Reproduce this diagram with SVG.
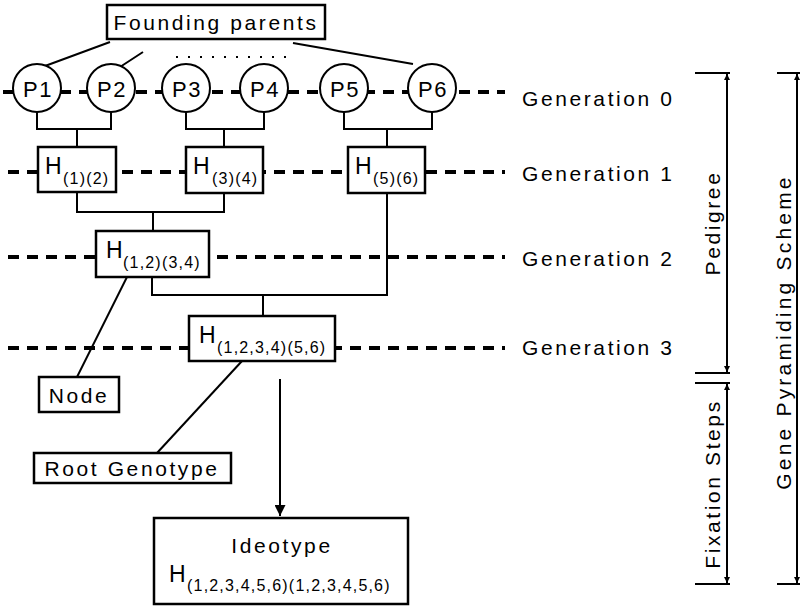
<svg xmlns="http://www.w3.org/2000/svg" width="800" height="607" viewBox="0 0 800 607">
<style>
text{font-family:"Liberation Sans",Arial,sans-serif;fill:#000}
.lbl{font-size:21px;letter-spacing:2.6px}
.p{font-size:22px;letter-spacing:1.5px;text-anchor:middle}
.h{font-size:23px}
.s{font-size:16px;letter-spacing:1.2px}
.box{fill:#fff;stroke:#000;stroke-width:2.5}
.circ{fill:#fff;stroke:#000;stroke-width:2}
.ln{fill:none;stroke:#000;stroke-width:2}
.dash{fill:none;stroke:#000;stroke-width:4;stroke-dasharray:11 8}
.br{fill:none;stroke:#000;stroke-width:2}
</style>
<defs>
<marker id="ah" viewBox="0 0 10 10" refX="10" refY="5" markerWidth="6" markerHeight="9" markerUnits="userSpaceOnUse" orient="auto-start-reverse"><path d="M0,0 L10,5 L0,10 z" fill="#000"/></marker>
<marker id="big" viewBox="0 0 10 10" refX="10" refY="5" markerWidth="14" markerHeight="11" markerUnits="userSpaceOnUse" orient="auto"><path d="M0,0 L10,5 L0,10 z" fill="#000"/></marker>
</defs>
<g id="generation-lines">
<path class="dash" d="M3,92 H505"/>
<path class="dash" d="M8,172 H505"/>
<path class="dash" d="M8,257 H505"/>
<path class="dash" d="M8,348 H505"/>
<text class="lbl" x="522" y="106">Generation 0</text>
<text class="lbl" x="522" y="181">Generation 1</text>
<text class="lbl" x="522" y="266">Generation 2</text>
<text class="lbl" x="522" y="355">Generation 3</text>
</g>
<g id="connectors">
<path class="ln" d="M110,42 L45,66 M143,52 L120,67 M293,43 L413,64"/>
<path class="ln" d="M176,57 H286" stroke-dasharray="2 10" stroke-width="2"/>
<path class="ln" d="M37,112 V129 M111,112 V129 M36,129 H112 M77,129 V147"/>
<path class="ln" d="M186,112 V129 M264,112 V129 M185,129 H265 M224,129 V147"/>
<path class="ln" d="M344,112 V129 M432,112 V129 M343,129 H433 M387,129 V147"/>
<path class="ln" d="M77,192 V212 M224,193 V212 M76,212 H225 M153,212 V231"/>
<path class="ln" d="M387,193 V295 M152,277 V295 M151,295 H388 M263,295 V316"/>
<path class="ln" d="M77,377 L127,277"/>
<path class="ln" d="M157,453 L242,361"/>
<path class="ln" d="M280,379 V516" marker-end="url(#big)"/>
</g>
<g id="founding-parents"><rect class="box" x="107" y="5" width="218" height="34"/><text class="lbl" x="216" y="30" text-anchor="middle">Founding parents</text></g>
<g id="P1"><circle class="circ" cx="37" cy="88" r="24"/><text class="p" x="38" y="97">P1</text></g>
<g id="P2"><circle class="circ" cx="111" cy="88" r="24"/><text class="p" x="112" y="97">P2</text></g>
<g id="P3"><circle class="circ" cx="186" cy="88" r="24"/><text class="p" x="187" y="97">P3</text></g>
<g id="P4"><circle class="circ" cx="264" cy="88" r="24"/><text class="p" x="265" y="97">P4</text></g>
<g id="P5"><circle class="circ" cx="344" cy="88" r="24"/><text class="p" x="345" y="97">P5</text></g>
<g id="P6"><circle class="circ" cx="432" cy="88" r="24"/><text class="p" x="433" y="97">P6</text></g>
<g id="H12"><rect class="box" x="38" y="147" width="78" height="45"/><text><tspan class="h" x="45" y="174">H</tspan><tspan class="s" x="63" y="184">(1)(2)</tspan></text></g>
<g id="H34"><rect class="box" x="186" y="147" width="77" height="46"/><text><tspan class="h" x="193" y="174">H</tspan><tspan class="s" x="212" y="184">(3)(4)</tspan></text></g>
<g id="H56"><rect class="box" x="348" y="147" width="77" height="46"/><text><tspan class="h" x="355" y="174">H</tspan><tspan class="s" x="373" y="184">(5)(6)</tspan></text></g>
<g id="H1234"><rect class="box" x="96" y="231" width="113" height="46"/><text><tspan class="h" x="106" y="258">H</tspan><tspan class="s" x="123" y="268">(1,2)(3,4)</tspan></text></g>
<g id="H123456"><rect class="box" x="189" y="316" width="146" height="45"/><text><tspan class="h" x="199" y="343">H</tspan><tspan class="s" x="217" y="353">(1,2,3,4)(5,6)</tspan></text></g>
<g id="node-label"><rect class="box" x="39" y="377" width="80" height="35"/><text class="lbl" x="79" y="403" text-anchor="middle">Node</text></g>
<g id="root-genotype"><rect class="box" x="34" y="453" width="197" height="30"/><text class="lbl" x="132" y="476" text-anchor="middle">Root Genotype</text></g>
<g id="ideotype"><rect class="box" x="154" y="518" width="254" height="86"/><text class="lbl" x="282" y="553" text-anchor="middle">Ideotype</text><text><tspan class="h" x="169" y="582">H</tspan><tspan class="s" x="187" y="591">(1,2,3,4,5,6)(1,2,3,4,5,6)</tspan></text></g>
<g id="brackets">
<path class="br" d="M695,73 H730 M777,73 H800 M695,373 H730 M695,383 H730 M695,584 H730 M777,584 H800"/>
<path class="br" d="M727,74 V372" marker-start="url(#ah)" marker-end="url(#ah)"/>
<path class="br" d="M727,384 V583" marker-start="url(#ah)" marker-end="url(#ah)"/>
<path class="br" d="M797,74 V583" marker-start="url(#ah)" marker-end="url(#ah)"/>
<text class="lbl" transform="translate(720,223) rotate(-90)" text-anchor="middle">Pedigree</text>
<text class="lbl" transform="translate(720,484) rotate(-90)" text-anchor="middle">Fixation Steps</text>
<text class="lbl" transform="translate(791,332) rotate(-90)" text-anchor="middle" style="letter-spacing:3.2px">Gene Pyramiding Scheme</text>
</g>
</svg>
